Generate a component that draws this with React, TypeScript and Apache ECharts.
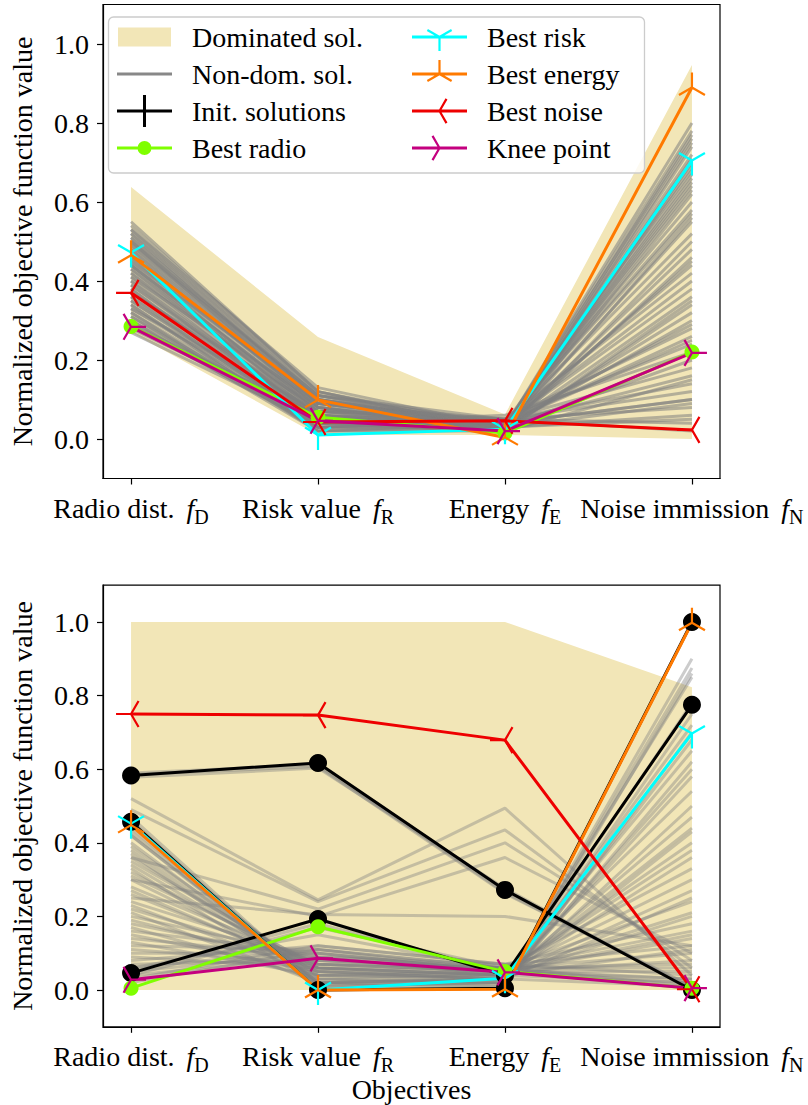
import React, { useEffect, useRef } from 'react';
import * as echarts from 'echarts';

// ---------- categories / ticks ----------
const objectives = ['Radio dist.', 'Risk value', 'Energy', 'Noise immission'];
const objectiveSubscripts = ['D', 'R', 'E', 'N'];
const xTicks = [0, 1, 2, 3];
const yTicks = [0, 0.2, 0.4, 0.6, 0.8, 1.0];

// ---------- top panel ----------
const topDominatedUpper = [0.638, 0.258, 0.062, 0.947];
const topDominatedLower = [0.27, 0.01, 0.01, 0.0];
const topNonDominated = [
  [0.54, 0.12, 0.03, 0.05], [0.53, 0.11, 0.04, 0.10], [0.52, 0.12, 0.02, 0.15], [0.51, 0.10, 0.03, 0.20],
  [0.50, 0.11, 0.05, 0.08], [0.49, 0.09, 0.04, 0.25], [0.48, 0.10, 0.03, 0.30], [0.47, 0.08, 0.02, 0.35],
  [0.46, 0.09, 0.05, 0.12], [0.45, 0.07, 0.04, 0.40], [0.44, 0.08, 0.03, 0.45], [0.43, 0.06, 0.02, 0.50],
  [0.42, 0.07, 0.05, 0.18], [0.41, 0.05, 0.03, 0.55], [0.40, 0.06, 0.04, 0.60], [0.39, 0.05, 0.02, 0.62],
  [0.38, 0.04, 0.06, 0.22], [0.37, 0.06, 0.03, 0.65], [0.36, 0.05, 0.04, 0.68], [0.35, 0.04, 0.02, 0.70],
  [0.34, 0.03, 0.05, 0.28], [0.33, 0.05, 0.03, 0.72], [0.32, 0.04, 0.04, 0.38], [0.31, 0.03, 0.02, 0.75],
  [0.30, 0.04, 0.05, 0.42], [0.29, 0.03, 0.03, 0.78], [0.52, 0.10, 0.04, 0.58], [0.50, 0.09, 0.03, 0.66],
  [0.48, 0.08, 0.02, 0.74], [0.46, 0.07, 0.03, 0.80], [0.44, 0.06, 0.04, 0.52], [0.42, 0.05, 0.03, 0.48],
  [0.40, 0.04, 0.02, 0.34], [0.38, 0.03, 0.04, 0.26], [0.36, 0.03, 0.05, 0.14], [0.34, 0.02, 0.03, 0.06],
  [0.32, 0.02, 0.04, 0.10], [0.30, 0.02, 0.02, 0.56], [0.53, 0.13, 0.03, 0.64], [0.49, 0.11, 0.02, 0.71],
  [0.45, 0.10, 0.03, 0.76], [0.41, 0.09, 0.04, 0.44], [0.37, 0.08, 0.03, 0.32], [0.33, 0.07, 0.05, 0.24],
  [0.29, 0.06, 0.04, 0.16], [0.28, 0.05, 0.03, 0.09], [0.55, 0.12, 0.02, 0.69], [0.27, 0.04, 0.05, 0.04],
  [0.51, 0.11, 0.03, 0.63], [0.47, 0.09, 0.04, 0.57], [0.43, 0.07, 0.03, 0.67], [0.39, 0.06, 0.02, 0.46],
  [0.35, 0.05, 0.03, 0.36], [0.31, 0.04, 0.04, 0.29], [0.50, 0.10, 0.02, 0.77], [0.44, 0.08, 0.05, 0.02],
];
const topInitial: number[][] = [];
const topBestRadio = [0.285, 0.055, 0.015, 0.22];
const topBestRisk = [0.472, 0.01, 0.025, 0.705];
const topBestEnergy = [0.465, 0.099, 0.004, 0.89];
const topBestNoise = [0.37, 0.043, 0.046, 0.023];
const topKneePoint = [0.284, 0.046, 0.02, 0.218];

// ---------- bottom panel ----------
const bottomDominatedUpper = [1.0, 1.0, 1.0, 0.823];
const bottomDominatedLower = [0.0, 0.0, 0.0, 0.0];
const bottomNonDominated = [
  [0.59, 0.612, 0.265, 0.005], [0.586, 0.607, 0.262, 0.01], [0.578, 0.603, 0.276, 0.0],
  [0.47, 0.01, 0.02, 0.90], [0.46, 0.005, 0.01, 0.86], [0.44, 0.02, 0.03, 0.85], [0.43, 0.015, 0.02, 0.875],
  [0.42, 0.02, 0.03, 0.78], [0.52, 0.245, 0.494, 0.04], [0.49, 0.24, 0.435, 0.06], [0.36, 0.22, 0.40, 0.08],
  [0.30, 0.20, 0.36, 0.10], [0.25, 0.205, 0.20, 0.12],
  [0.40, 0.02, 0.03, 0.72], [0.38, 0.03, 0.04, 0.65], [0.36, 0.05, 0.03, 0.58], [0.34, 0.04, 0.05, 0.54],
  [0.32, 0.06, 0.04, 0.47], [0.30, 0.05, 0.03, 0.43], [0.28, 0.07, 0.05, 0.40], [0.26, 0.06, 0.04, 0.36],
  [0.24, 0.08, 0.06, 0.33], [0.22, 0.07, 0.05, 0.30], [0.20, 0.09, 0.04, 0.27], [0.18, 0.08, 0.06, 0.24],
  [0.16, 0.10, 0.05, 0.21], [0.14, 0.09, 0.07, 0.18], [0.12, 0.11, 0.06, 0.16], [0.10, 0.10, 0.05, 0.14],
  [0.08, 0.12, 0.07, 0.12], [0.06, 0.11, 0.06, 0.10], [0.05, 0.10, 0.05, 0.08], [0.04, 0.09, 0.06, 0.06],
  [0.03, 0.12, 0.07, 0.04], [0.02, 0.11, 0.05, 0.03], [0.42, 0.03, 0.02, 0.62], [0.39, 0.04, 0.03, 0.50],
  [0.35, 0.06, 0.04, 0.44], [0.31, 0.07, 0.05, 0.38], [0.27, 0.05, 0.03, 0.25], [0.23, 0.04, 0.04, 0.20],
  [0.19, 0.06, 0.05, 0.15], [0.15, 0.05, 0.04, 0.11], [0.11, 0.07, 0.06, 0.07], [0.07, 0.08, 0.05, 0.05],
  [0.09, 0.06, 0.04, 0.02], [0.13, 0.04, 0.03, 0.01], [0.17, 0.03, 0.02, 0.68], [0.21, 0.02, 0.03, 0.60],
  [0.33, 0.01, 0.02, 0.75], [0.37, 0.02, 0.01, 0.70], [0.05, 0.18, 0.05, 0.02], [0.04, 0.17, 0.06, 0.01],
  [0.06, 0.15, 0.055, 0.03],
];
const bottomInitial = [
  [0.583, 0.617, 0.272, 0.0],
  [0.046, 0.193, 0.04, 0.775],
  [0.457, 0.0, 0.005, 1.0],
];
const bottomBestRadio = [0.005, 0.172, 0.05, 0.005];
const bottomBestRisk = [0.452, 0.0, 0.032, 0.697];
const bottomBestEnergy = [0.448, 0.0, 0.002, 0.998];
const bottomBestNoise = [0.75, 0.747, 0.679, 0.002];
const bottomKneePoint = [0.028, 0.086, 0.048, 0.005];

// ---------- styles ----------
const FONT = 'Liberation Serif';
const FS = 28;
const TAN = '#F2E6B7';
const GREEN = '#7FFF00';
const CYAN = '#00FFFF';
const ORANGE = '#FF7A00';
const RED = '#EE0000';
const MAGENTA = '#C4007F';

type Pt = [number, number];
function seg(a: Pt, b: Pt, w: number): string {
  const dx = b[0] - a[0], dy = b[1] - a[1];
  const L = Math.hypot(dx, dy) || 1;
  const nx = (-dy / L) * w / 2, ny = (dx / L) * w / 2;
  const p = (x: number, y: number) => `${x.toFixed(3)} ${y.toFixed(3)}`;
  return `M${p(a[0] + nx, a[1] + ny)}L${p(b[0] + nx, b[1] + ny)}L${p(b[0] - nx, b[1] - ny)}L${p(a[0] - nx, a[1] - ny)}Z`;
}
function pad(x0: number, y0: number, x1: number, y1: number): string {
  return `M${x0} ${y0}L${x0 + 0.01} ${y0}L${x0} ${y0 + 0.01}Z M${x1} ${y1}L${x1 - 0.01} ${y1}L${x1} ${y1 - 0.01}Z`;
}
const TRI: Record<string, Pt[]> = {
  down: [[0, 1], [-0.866, -0.5], [0.866, -0.5]],
  up: [[0, -1], [-0.866, 0.5], [0.866, 0.5]],
  left: [[-1, 0], [0.5, -0.866], [0.5, 0.866]],
  right: [[1, 0], [-0.5, -0.866], [-0.5, 0.866]],
  plus: [[1, 0], [-1, 0], [0, 1], [0, -1]],
};
function marker(kind: string, cx: number, cy: number, R: number, w: number): string {
  return TRI[kind].map(([ux, uy]) => seg([cx, cy], [cx + ux * R, cy + uy * R], w)).join('');
}
const MR = 15;
function symbolPath(kind: string): string {
  return 'path://' + marker(kind, 0, 0, MR, 2.2) + pad(-MR, -MR, MR, MR);
}
// legend icons
const IW = 70, IH = 32, LL = 55, LC = LL / 2, LY = IH / 2;
function iconMarker(kind: string, w = 2.2, R = 14): string {
  return 'path://' + seg([0, LY], [LL, LY], 3) + marker(kind, LC, LY, R, w) + pad(0, 0, IW, IH);
}
const iconRect = 'path://' + `M1 ${LY - 9.5}H54V${LY + 9.5}H1Z` + pad(0, 0, IW, IH);
const iconLine = 'path://' + seg([0, LY], [LL, LY], 3) + pad(0, 0, IW, IH);
const r = 7;
const iconCircle = 'path://' + seg([0, LY], [LC - r + 0.5, LY], 3) + seg([LC + r - 0.5, LY], [LL, LY], 3) +
  `M${LC - r} ${LY}A${r} ${r} 0 1 0 ${LC + r} ${LY}A${r} ${r} 0 1 0 ${LC - r} ${LY}Z` + pad(0, 0, IW, IH);

const panels = [
  {
    grid: { left: 95, top: 4.5, width: 625, height: 474 },
    upper: topDominatedUpper, lower: topDominatedLower, nondom: topNonDominated, init: topInitial,
    radio: topBestRadio, risk: topBestRisk, energy: topBestEnergy, noise: topBestNoise, knee: topKneePoint,
    gray: 'rgba(128,128,128,0.55)', xName: '',
  },
  {
    grid: { left: 95, top: 585.2, width: 625, height: 441.6 },
    upper: bottomDominatedUpper, lower: bottomDominatedLower, nondom: bottomNonDominated, init: bottomInitial,
    radio: bottomBestRadio, risk: bottomBestRisk, energy: bottomBestEnergy, noise: bottomBestNoise, knee: bottomKneePoint,
    gray: 'rgba(128,128,128,0.4)', xName: 'Objectives',
  },
];

function lineSeries(name: string, values: number[], gi: number, color: string, symbol: string, symbolSize: number, width = 3) {
  return {
    type: 'line', name, xAxisIndex: gi, yAxisIndex: gi, silent: true,
    data: values.map((v, i) => [xTicks[i], v]),
    lineStyle: { color, width },
    itemStyle: { color, borderWidth: 0 },
    symbol, symbolSize, showSymbol: symbol !== 'none', showAllSymbol: true,
    emphasis: { disabled: true },
  };
}

function buildOption() {
  const series: any[] = [];
  panels.forEach((p, gi) => {
    const upper = p.upper, lower = p.lower;
    series.push({
      type: 'custom', name: 'Dominated sol.', xAxisIndex: gi, yAxisIndex: gi, silent: true,
      data: [[0, 0]], itemStyle: { color: TAN },
      renderItem: (_params: any, api: any) => {
        const pts: number[][] = [];
        upper.forEach((v, i) => pts.push(api.coord([xTicks[i], v])));
        for (let i = lower.length - 1; i >= 0; i--) pts.push(api.coord([xTicks[i], lower[i]]));
        return { type: 'polygon', shape: { points: pts }, style: { fill: TAN } };
      },
    });
    p.nondom.forEach((vals) => series.push(lineSeries('Non-dom. sol.', vals, gi, p.gray, 'none', 0, 3)));
    if (p.init.length === 0) {
      series.push({ ...lineSeries('Init. solutions', [], gi, '#000', 'circle', 17), data: [] });
    }
    p.init.forEach((vals) => series.push(lineSeries('Init. solutions', vals, gi, '#000', 'circle', 18)));
    series.push(lineSeries('Best radio', p.radio, gi, GREEN, 'circle', 15));
    series.push(lineSeries('Best risk', p.risk, gi, CYAN, symbolPath('down'), MR * 2));
    series.push(lineSeries('Best energy', p.energy, gi, ORANGE, symbolPath('up'), MR * 2));
    series.push(lineSeries('Best noise', p.noise, gi, RED, symbolPath('left'), MR * 2));
    series.push(lineSeries('Knee point', p.knee, gi, MAGENTA, symbolPath('right'), MR * 2));
  });

  const rich = {
    t: { fontFamily: FONT, fontSize: FS, color: '#000', lineHeight: 36 },
    f: { fontFamily: FONT, fontSize: FS, color: '#000', lineHeight: 36, fontStyle: 'italic', padding: [0, 0, 0, 5] },
    s: { fontFamily: FONT, fontSize: 20, color: '#000', lineHeight: 20, verticalAlign: 'bottom' },
  };

  const xAxis = panels.map((p, gi) => ({
    type: 'value', gridIndex: gi, min: -0.15, max: 3.15,
    splitLine: { show: false },
    axisLine: { show: true, onZero: false, lineStyle: { color: '#000', width: 1.2 } },
    axisTick: { show: true, customValues: xTicks, length: 6, lineStyle: { color: '#000', width: 1.2 } },
    axisLabel: {
      customValues: xTicks, margin: 12, fontFamily: FONT, fontSize: FS, color: '#000',
      formatter: (v: number) => {
        const i = Math.round(v);
        return `{t|${objectives[i]} }{f|f}{s|${objectiveSubscripts[i]}}`;
      },
      rich,
    },
    name: p.xName, nameLocation: 'middle', nameGap: 46,
    nameTextStyle: { fontFamily: FONT, fontSize: FS, color: '#000' },
  }));

  const yAxis = panels.map((_p, gi) => ({
    type: 'value', gridIndex: gi, min: -0.1, max: 1.1,
    splitLine: { show: false },
    axisLine: { show: true, onZero: false, lineStyle: { color: '#000', width: 1.2 } },
    axisTick: { show: true, customValues: yTicks, length: 6, lineStyle: { color: '#000', width: 1.2 } },
    axisLabel: {
      customValues: yTicks, margin: 14, fontFamily: FONT, fontSize: FS, color: '#000',
      formatter: (v: number) => v.toFixed(1),
    },
    name: 'Normalized objective function value', nameLocation: 'middle', nameGap: 67,
    nameTextStyle: { fontFamily: FONT, fontSize: FS, color: '#000' },
  }));

  const legendBase = {
    orient: 'vertical', top: 21, padding: 0, itemWidth: IW, itemHeight: IH, itemGap: 5,
    selectedMode: false, z: 100, symbolKeepAspect: false,
    textStyle: { fontFamily: FONT, fontSize: FS, color: '#000' },
  };

  return {
    animation: false,
    backgroundColor: '#fff',
    grid: panels.map((p) => ({ ...p.grid, show: true, borderColor: '#000', borderWidth: 1.2, backgroundColor: 'transparent' })),
    xAxis, yAxis, series,
    legend: [
      {
        ...legendBase, left: 117,
        data: [
          { name: 'Dominated sol.', icon: iconRect, itemStyle: { color: TAN } },
          { name: 'Non-dom. sol.', icon: iconLine, itemStyle: { color: '#888888' } },
          { name: 'Init. solutions', icon: iconMarker('plus', 3, 16), itemStyle: { color: '#000' } },
          { name: 'Best radio', icon: iconCircle, itemStyle: { color: GREEN } },
        ],
      },
      {
        ...legendBase, left: 412,
        data: [
          { name: 'Best risk', icon: iconMarker('down'), itemStyle: { color: CYAN } },
          { name: 'Best energy', icon: iconMarker('up'), itemStyle: { color: ORANGE } },
          { name: 'Best noise', icon: iconMarker('left'), itemStyle: { color: RED } },
          { name: 'Knee point', icon: iconMarker('right'), itemStyle: { color: MAGENTA } },
        ],
      },
    ],
    graphic: [
      {
        type: 'rect', silent: true, z: 50,
        shape: { x: 108.5, y: 17, width: 536, height: 156, r: 5 },
        style: { fill: 'rgba(255,255,255,0.8)', stroke: '#cccccc', lineWidth: 1.3 },
      },
    ],
  };
}

export default function App() {
  const ref = useRef<HTMLDivElement>(null);
  useEffect(() => {
    const chart = echarts.init(ref.current!, null, { renderer: 'svg' });
    chart.setOption(buildOption() as any);
    return () => chart.dispose();
  }, []);
  return <div ref={ref} style={{ position: 'absolute', left: 0, top: 0, width: 808, height: 1105 }} />;
}
